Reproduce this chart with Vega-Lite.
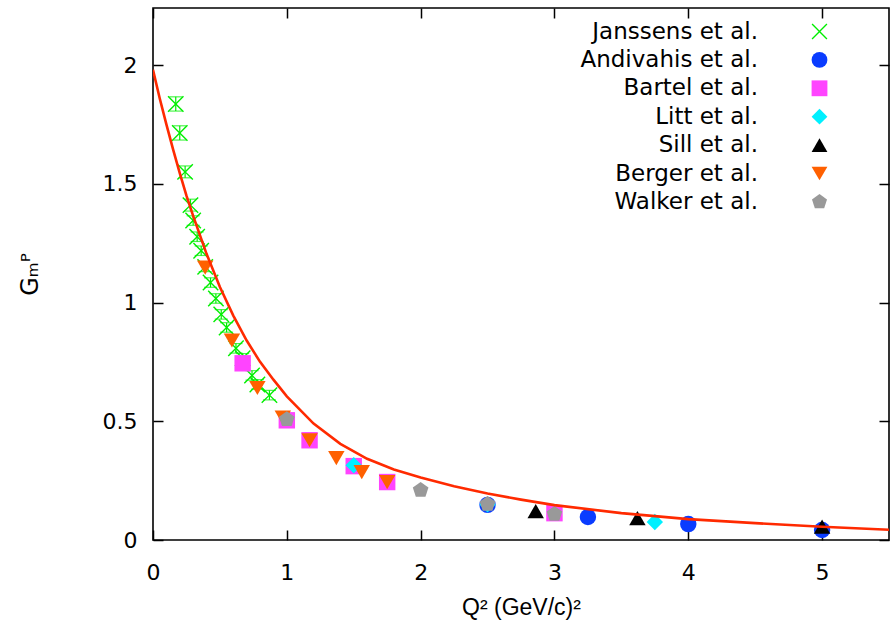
{
  "$schema": "https://vega.github.io/schema/vega-lite/v6.json",
  "width": 736,
  "height": 532,
  "autosize": {"type": "none"},
  "padding": {"left": 153, "top": 8, "right": 3, "bottom": 91},
  "background": "white",
  "view": {"stroke": "black", "strokeWidth": 1.6},
  "datasets": {
    "pts": [
      {"series": "Janssens et al.", "q2": 0.17, "g": 1.836, "err": 0.03},
      {"series": "Janssens et al.", "q2": 0.20, "g": 1.714, "err": 0.03},
      {"series": "Janssens et al.", "q2": 0.24, "g": 1.55, "err": 0.025},
      {"series": "Janssens et al.", "q2": 0.28, "g": 1.41, "err": 0.025},
      {"series": "Janssens et al.", "q2": 0.30, "g": 1.345, "err": 0.02},
      {"series": "Janssens et al.", "q2": 0.33, "g": 1.277, "err": 0.02},
      {"series": "Janssens et al.", "q2": 0.36, "g": 1.218, "err": 0.02},
      {"series": "Janssens et al.", "q2": 0.39, "g": 1.15, "err": 0.02},
      {"series": "Janssens et al.", "q2": 0.43, "g": 1.084, "err": 0.02},
      {"series": "Janssens et al.", "q2": 0.47, "g": 1.017, "err": 0.02},
      {"series": "Janssens et al.", "q2": 0.51, "g": 0.95, "err": 0.02},
      {"series": "Janssens et al.", "q2": 0.55, "g": 0.895, "err": 0.02},
      {"series": "Janssens et al.", "q2": 0.62, "g": 0.807, "err": 0.02},
      {"series": "Janssens et al.", "q2": 0.67, "g": 0.765, "err": 0.02},
      {"series": "Janssens et al.", "q2": 0.74, "g": 0.693, "err": 0.02},
      {"series": "Janssens et al.", "q2": 0.78, "g": 0.655, "err": 0.02},
      {"series": "Janssens et al.", "q2": 0.87, "g": 0.61, "err": 0.02},
      {"series": "Andivahis et al.", "q2": 2.5, "g": 0.148},
      {"series": "Andivahis et al.", "q2": 3.25, "g": 0.097},
      {"series": "Andivahis et al.", "q2": 4.0, "g": 0.067},
      {"series": "Andivahis et al.", "q2": 5.0, "g": 0.042},
      {"series": "Bartel et al.", "q2": 0.67, "g": 0.744},
      {"series": "Bartel et al.", "q2": 1.0, "g": 0.504},
      {"series": "Bartel et al.", "q2": 1.17, "g": 0.42},
      {"series": "Bartel et al.", "q2": 1.5, "g": 0.311},
      {"series": "Bartel et al.", "q2": 1.75, "g": 0.244},
      {"series": "Bartel et al.", "q2": 3.0, "g": 0.113},
      {"series": "Litt et al.", "q2": 1.5, "g": 0.315},
      {"series": "Litt et al.", "q2": 2.5, "g": 0.15},
      {"series": "Litt et al.", "q2": 3.75, "g": 0.076},
      {"series": "Sill et al.", "q2": 2.86, "g": 0.122},
      {"series": "Sill et al.", "q2": 3.62, "g": 0.092},
      {"series": "Sill et al.", "q2": 5.0, "g": 0.056},
      {"series": "Berger et al.", "q2": 0.39, "g": 1.147},
      {"series": "Berger et al.", "q2": 0.59, "g": 0.84},
      {"series": "Berger et al.", "q2": 0.78, "g": 0.64},
      {"series": "Berger et al.", "q2": 0.97, "g": 0.515},
      {"series": "Berger et al.", "q2": 1.17, "g": 0.42},
      {"series": "Berger et al.", "q2": 1.37, "g": 0.345},
      {"series": "Berger et al.", "q2": 1.56, "g": 0.286},
      {"series": "Berger et al.", "q2": 1.75, "g": 0.244},
      {"series": "Walker et al.", "q2": 1.0, "g": 0.508},
      {"series": "Walker et al.", "q2": 2.0, "g": 0.21},
      {"series": "Walker et al.", "q2": 2.5, "g": 0.151},
      {"series": "Walker et al.", "q2": 3.0, "g": 0.109}
    ],
    "fit": [
      {"q2": 0.0, "g": 1.98},
      {"q2": 0.05, "g": 1.86},
      {"q2": 0.1, "g": 1.75},
      {"q2": 0.15, "g": 1.645},
      {"q2": 0.2, "g": 1.545},
      {"q2": 0.25, "g": 1.45},
      {"q2": 0.3, "g": 1.365},
      {"q2": 0.4, "g": 1.205},
      {"q2": 0.5, "g": 1.065},
      {"q2": 0.6, "g": 0.945},
      {"q2": 0.7, "g": 0.84},
      {"q2": 0.8, "g": 0.75},
      {"q2": 0.9, "g": 0.675},
      {"q2": 1.0, "g": 0.605},
      {"q2": 1.2, "g": 0.49},
      {"q2": 1.4, "g": 0.405},
      {"q2": 1.6, "g": 0.342},
      {"q2": 1.8, "g": 0.297},
      {"q2": 2.0, "g": 0.263},
      {"q2": 2.25, "g": 0.226},
      {"q2": 2.5, "g": 0.196},
      {"q2": 2.75, "g": 0.17},
      {"q2": 3.0, "g": 0.147},
      {"q2": 3.5, "g": 0.113},
      {"q2": 4.0, "g": 0.088},
      {"q2": 4.5, "g": 0.071},
      {"q2": 5.0, "g": 0.056},
      {"q2": 5.5, "g": 0.043}
    ]
  },
  "layer": [
    {
      "data": {"name": "pts"},
      "transform": [{"filter": "datum.series === 'Janssens et al.'"}],
      "mark": {"type": "errorbar", "ticks": {"size": 13, "color": "#00ee00", "strokeWidth": 1.2}, "color": "#00ee00", "thickness": 1.2},
      "encoding": {
        "x": {"field": "q2", "type": "quantitative", "scale": {"domain": [0, 5.5], "nice": false, "zero": false}, "axis": null},
        "y": {"field": "g", "type": "quantitative", "scale": {"domain": [0, 2.24], "nice": false, "zero": false}, "axis": null},
        "yError": {"field": "err"}
      }
    },
    {
      "data": {"name": "pts"},
      "mark": {"type": "point", "filled": true, "opacity": 1, "size": 270, "strokeWidth": 0},
      "encoding": {
        "x": {"field": "q2", "type": "quantitative",
          "axis": {"orient": "bottom", "values": [0, 1, 2, 3, 4, 5], "format": "~g", "tickSize": -10, "tickWidth": 1.5, "tickColor": "black", "domain": false, "grid": false,
            "labelFontSize": 22, "labelFont": "DejaVu Sans", "labelColor": "black", "labelPadding": 32, "labelFlush": false,
            "title": "Q² (GeV/c)²", "titleFontSize": 23, "titleFontWeight": "normal", "titleFont": "Liberation Sans", "titleColor": "black", "titlePadding": 13}},
        "y": {"field": "g", "type": "quantitative",
          "axis": {"orient": "left", "values": [0, 0.5, 1, 1.5, 2], "format": "~g", "tickSize": -10, "tickWidth": 1.5, "tickColor": "black", "domain": false, "grid": false,
            "labelFontSize": 22, "labelFont": "DejaVu Sans", "labelColor": "black", "labelPadding": 26, "labelFlush": false,
            "title": "Gₘᴾ", "titleFontSize": 24, "titleFontWeight": "normal", "titleFont": "DejaVu Sans", "titleColor": "black", "titlePadding": 60}},
        "color": {"field": "series", "type": "nominal",
          "scale": {"domain": ["Janssens et al.", "Andivahis et al.", "Bartel et al.", "Litt et al.", "Sill et al.", "Berger et al.", "Walker et al."],
                    "range": ["#00ee00", "#0a3cff", "#ff44ff", "#00f0ff", "#000000", "#ff6000", "#999999"]},
          "legend": {"title": null, "orient": "none", "legendX": 655, "legendY": 12, "labelFontSize": 23, "labelFont": "DejaVu Sans", "labelColor": "black", "labelAlign": "right", "labelOffset": -73, "labelLimit": 0, "symbolSize": 250, "rowPadding": 4.4, "symbolStrokeWidth": 0, "symbolOpacity": 1}},
        "shape": {"field": "series", "type": "nominal",
          "scale": {"domain": ["Janssens et al.", "Andivahis et al.", "Bartel et al.", "Litt et al.", "Sill et al.", "Berger et al.", "Walker et al."],
                    "range": ["M-1,-0.88L-0.88,-1L0,-0.12L0.88,-1L1,-0.88L0.12,0L1,0.88L0.88,1L0,0.12L-0.88,1L-1,0.88L-0.12,0Z", "circle", "square", "diamond", "triangle-up", "triangle-down", "M0,-1L0.951,-0.309L0.588,0.809L-0.588,0.809L-0.951,-0.309Z"]},
          "legend": {"title": null, "orient": "none", "legendX": 655, "legendY": 12, "labelFontSize": 23, "labelFont": "DejaVu Sans", "labelColor": "black", "labelAlign": "right", "labelOffset": -73, "labelLimit": 0, "symbolSize": 250, "rowPadding": 4.4, "symbolStrokeWidth": 0, "symbolOpacity": 1}}
      }
    },
    {
      "data": {"name": "fit"},
      "mark": {"type": "line", "color": "#ff2a00", "strokeWidth": 2.6, "clip": true},
      "encoding": {
        "x": {"field": "q2", "type": "quantitative",
          "axis": {"orient": "top", "values": [0, 1, 2, 3, 4, 5], "tickSize": -10, "tickWidth": 1.5, "tickColor": "black", "domain": false, "grid": false, "labels": false, "title": null}},
        "y": {"field": "g", "type": "quantitative",
          "axis": {"orient": "right", "values": [0, 0.5, 1, 1.5, 2], "tickSize": -10, "tickWidth": 1.5, "tickColor": "black", "domain": false, "grid": false, "labels": false, "title": null}}
      }
    }
  ],
  "resolve": {"axis": {"x": "independent", "y": "independent"}}
}
